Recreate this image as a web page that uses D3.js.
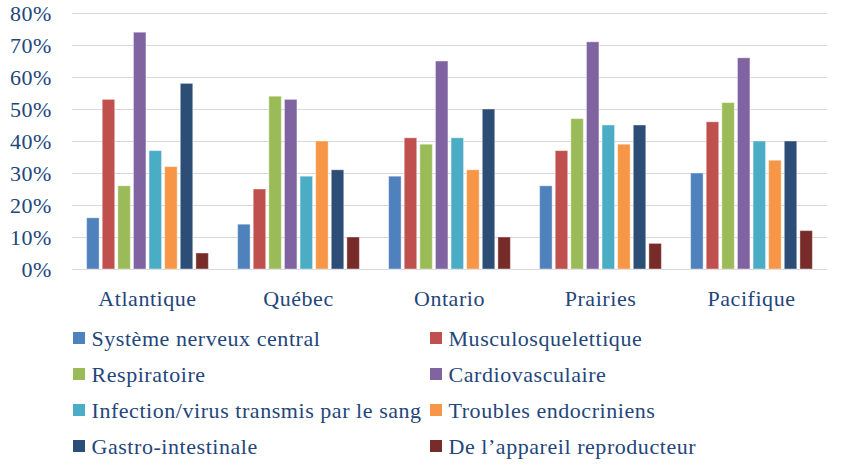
<!DOCTYPE html>
<html lang="fr">
<head>
<meta charset="UTF-8">
<title>Grouped bars</title>
<style>
body { margin: 0; background: #fff; }
svg text { font-family: "Liberation Serif", "Times New Roman", serif; fill: #23467a; font-size: 22px; letter-spacing: 0.55px; }
.grid line { stroke: #d9d9d9; stroke-width: 1px; }
</style>
</head>
<body>
<script src="https://cdnjs.cloudflare.com/ajax/libs/d3/7.8.5/d3.min.js"></script>
<script>
var regions = ["Atlantique", "Québec", "Ontario", "Prairies", "Pacifique"];
var series = ["Système nerveux central", "Musculosquelettique", "Respiratoire", "Cardiovasculaire",
  "Infection/virus transmis par le sang", "Troubles endocriniens", "Gastro-intestinale",
  "De l’appareil reproducteur"];
var colors = ["#4f81bd", "#c0504d", "#9bbb59", "#8064a2", "#4bacc6", "#f79646", "#2c4d75", "#772c2a"];
var nerveux   = [16, 14, 29, 26, 30];
var musculo   = [53, 25, 41, 37, 46];
var respir    = [26, 54, 39, 47, 52];
var cardio    = [74, 53, 65, 71, 66];
var infection = [37, 29, 41, 45, 40];
var endocrin  = [32, 40, 31, 39, 34];
var gastro    = [58, 31, 50, 45, 40];
var reprod    = [5, 10, 10, 8, 12];
var yTicks = [0, 10, 20, 30, 40, 50, 60, 70, 80];

var values = [nerveux, musculo, respir, cardio, infection, endocrin, gastro, reprod];

var width = 857, height = 467;
var mLeft = 72, mRight = 827, mTop = 13, mBottom = 269;

var svg = d3.select("body").append("svg")
  .attr("width", width).attr("height", height);

var x0 = d3.scaleBand().domain(regions).range([mLeft, mRight]);
var x1 = d3.scaleBand().domain(series).range([11.5, x0.bandwidth() - 11.5]).padding(0.2);
var y = d3.scaleLinear().domain([0, 80]).range([mBottom, mTop]);

// gridlines
svg.append("g").attr("class", "grid")
  .selectAll("line").data(yTicks).join("line")
  .attr("x1", mLeft).attr("x2", mRight)
  .attr("y1", d => y(d) + 0.5).attr("y2", d => y(d) + 0.5);

// y axis labels
var yAxis = d3.axisLeft(y).tickValues(yTicks).tickFormat(d => d + "%").tickSize(0).tickPadding(20);
var ya = svg.append("g").attr("transform", "translate(" + mLeft + ",0)").call(yAxis)
  .attr("font-family", null).attr("font-size", null);
ya.select(".domain").remove();
ya.selectAll("text").attr("fill", null);

// bars
var groups = svg.selectAll("g.region").data(regions).join("g")
  .attr("class", "region")
  .attr("transform", d => "translate(" + x0(d) + ",0)");
groups.selectAll("rect").data((r, i) => series.map((s, k) => ({ s: s, k: k, v: values[k][i] })))
  .join("rect")
  .attr("x", d => x1(d.s))
  .attr("width", x1.bandwidth())
  .attr("y", d => y(d.v))
  .attr("height", d => y(0) - y(d.v))
  .attr("fill", d => colors[d.k])
  .attr("stroke", "#ffffff").attr("stroke-opacity", 0.4).attr("stroke-width", 1);

// x axis labels
var xAxis = d3.axisBottom(x0).tickSize(0).tickPadding(21);
var xa = svg.append("g").attr("transform", "translate(0," + mBottom + ")").call(xAxis)
  .attr("font-family", null).attr("font-size", null);
xa.select(".domain").remove();
xa.selectAll("text").attr("fill", null);

// legend
var legend = svg.append("g").selectAll("g").data(series).join("g")
  .attr("transform", (d, i) => "translate(" + (i % 2 ? 430 : 73) + "," + (338 + Math.floor(i / 2) * 36) + ")");
legend.append("rect").attr("x", 0).attr("y", -6).attr("width", 12).attr("height", 12)
  .attr("fill", (d, i) => colors[i]);
legend.append("text").attr("x", 18.5).attr("dy", "0.35em").text(d => d);
</script>
</body>
</html>
